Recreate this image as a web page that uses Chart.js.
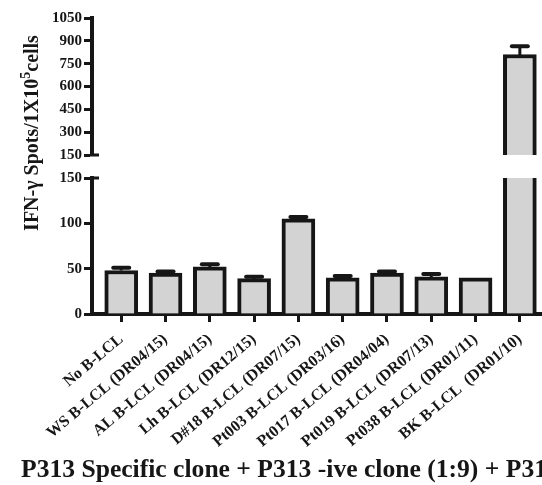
<!DOCTYPE html>
<html>
<head>
<meta charset="utf-8">
<script src="https://cdn.jsdelivr.net/npm/chart.js@4.4.0/dist/chart.umd.min.js"></script>
<style>
  html, body { margin: 0; padding: 0; background: #fff; }
  #wrap { position: relative; width: 542px; height: 485px; }
</style>
</head>
<body>
<div id="wrap"><canvas id="spotChart"></canvas></div>
<script>
// data
var categories = ['No B-LCL', 'WS B-LCL (DR04/15)', 'AL B-LCL (DR04/15)', 'Lh B-LCL (DR12/15)',
    'D#18 B-LCL (DR07/15)', 'Pt003 B-LCL (DR03/16)', 'Pt017 B-LCL (DR04/04)',
    'Pt019 B-LCL (DR07/13)', 'Pt038 B-LCL (DR01/11)', 'BK B-LCL  (DR01/10)'];
var spots = [48, 45, 52, 39, 105, 40, 45, 41, 40, 810];
var spotErrors = [3, 2, 3, 2, 2, 2, 2, 3, 0, 55];
var highTicks = [150, 300, 450, 600, 750, 900, 1050];
var lowTicks = [0, 50, 100, 150];
var breakValue = 150;
var yTitleParts = ['IFN-\u03b3 Spots/1X10', '5', 'cells'];
var xTitle = 'P313 Specific clone + P313 -ive clone (1:9) + P313';

var INK = '#161616';
var SERIF = '"Liberation Serif", "Times New Roman", serif';

document.addEventListener("DOMContentLoaded", function () {
    var canvas = document.getElementById('spotChart');
    var ctx = canvas.getContext('2d');

    function setTicks(list) {
        return function (scale) {
            scale.ticks = list.map(function (v) { return { value: v }; });
        };
    }

    function fixWidth(scale) { scale.width = 92; }

    var yTickStyle = {
        autoSkip: false,
        padding: 2,
        color: INK,
        font: { family: SERIF, size: 15, weight: 'bold' },
        callback: function (value) { return String(value); }
    };

    var errorBars = {
        id: 'errorBars',
        afterDatasetsDraw: function (chart) {
            var c = chart.ctx;
            var xs = chart.scales.x;
            c.save();
            c.strokeStyle = INK;
            spots.forEach(function (v, i) {
                var e = spotErrors[i];
                if (!e) return;
                var s = v > breakValue ? chart.scales.yHigh : chart.scales.yLow;
                var px = xs.getPixelForValue(i);
                var y0 = s.getPixelForValue(v);
                var y1 = s.getPixelForValue(v + e);
                c.lineWidth = 3;
                c.beginPath();
                c.moveTo(px, y0);
                c.lineTo(px, y1);
                c.stroke();
                c.lineWidth = 4;
                c.lineCap = 'round';
                c.beginPath();
                c.moveTo(px - 8, y1);
                c.lineTo(px + 8, y1);
                c.stroke();
            });
            c.restore();
        }
    };

    // short caps on the right of the axis at the break
    var axisBreak = {
        id: 'axisBreak',
        afterDraw: function (chart) {
            var c = chart.ctx;
            var x0 = chart.chartArea.left;
            c.save();
            c.strokeStyle = INK;
            c.lineWidth = 3;
            [chart.scales.yHigh, chart.scales.yLow].forEach(function (s) {
                var y = s.getPixelForValue(breakValue);
                c.beginPath();
                c.moveTo(x0 - 2, y);
                c.lineTo(x0 + 7, y);
                c.stroke();
            });
            c.restore();
        }
    };

    var titles = {
        id: 'titles',
        afterDraw: function (chart) {
            var c = chart.ctx;
            c.save();
            c.fillStyle = INK;
            // y title, rotated, with superscript
            c.translate(33, 133);
            c.rotate(-Math.PI / 2);
            var big = 'bold 20px ' + SERIF, small = 'bold 14px ' + SERIF;
            c.font = big;
            var w1 = c.measureText(yTitleParts[0]).width;
            var w3 = c.measureText(yTitleParts[2]).width;
            c.font = small;
            var w2 = c.measureText(yTitleParts[1]).width;
            var x0 = -(w1 + w2 + w3) / 2;
            c.textBaseline = 'middle';
            c.textAlign = 'left';
            c.font = big;
            c.fillText(yTitleParts[0], x0, 0);
            c.font = small;
            c.fillText(yTitleParts[1], x0 + w1, -7);
            c.font = big;
            c.fillText(yTitleParts[2], x0 + w1 + w2, 0);
            c.restore();

            c.save();
            c.fillStyle = INK;
            c.font = 'bold 25.6px ' + SERIF;
            c.textAlign = 'left';
            c.textBaseline = 'alphabetic';
            c.fillText(xTitle, 21, 477);
            c.restore();
        }
    };

    var barStyle = {
        backgroundColor: '#d3d3d3',
        borderColor: INK,
        barThickness: 33,
        grouped: false,
        borderSkipped: 'start'
    };

    new Chart(ctx, {
        type: 'bar',
        data: {
            datasets: [
                Object.assign({
                    label: 'lower',
                    yAxisID: 'yLow',
                    data: spots.map(function (v, i) { return { x: i, y: Math.min(v, breakValue) }; }),
                    borderWidth: function (c) {
                        return spots[c.dataIndex] > breakValue ? { top: 0, bottom: 0, left: 4, right: 4 } : 4;
                    }
                }, barStyle),
                Object.assign({
                    label: 'upper',
                    yAxisID: 'yHigh',
                    data: spots.map(function (v, i) { return { x: i, y: v > breakValue ? v : null }; }),
                    borderWidth: 4
                }, barStyle)
            ]
        },
        options: {
            responsive: true,
            maintainAspectRatio: false,
            animation: false,
            layout: { padding: { top: 18, right: 0, left: 0, bottom: 0 } },
            plugins: {
                legend: { display: false },
                tooltip: { enabled: false }
            },
            scales: {
                x: {
                    type: 'linear',
                    min: -0.66,
                    max: 9.5,
                    offset: false,
                    afterFit: function (s) { s.height = 171; },
                    border: { width: 4, color: INK },
                    grid: { offset: false, drawOnChartArea: false, tickLength: 8, tickWidth: 3, tickColor: INK },
                    ticks: {
                        stepSize: 1,
                        includeBounds: false,
                        autoSkip: false,
                        minRotation: 40,
                        maxRotation: 40,
                        padding: 8,
                        color: INK,
                        font: { family: SERIF, size: 16, weight: 'bold' },
                        callback: function (value) {
                            return categories[value] !== undefined ? categories[value] : '';
                        }
                    }
                },
                yLow: {
                    type: 'linear',
                    position: 'left',
                    stack: 'split',
                    stackWeight: 136,
                    min: lowTicks[0],
                    max: lowTicks[lowTicks.length - 1],
                    afterBuildTicks: setTicks(lowTicks),
                    afterFit: fixWidth,
                    border: { width: 4, color: INK },
                    grid: { drawOnChartArea: false, tickLength: 8, tickWidth: 3, tickColor: INK },
                    ticks: yTickStyle
                },
                yGap: {
                    type: 'linear',
                    position: 'left',
                    stack: 'split',
                    stackWeight: 23,
                    min: 0,
                    max: 1,
                    afterFit: fixWidth,
                    border: { display: false },
                    grid: { display: false },
                    ticks: { display: false }
                },
                yHigh: {
                    type: 'linear',
                    position: 'left',
                    stack: 'split',
                    stackWeight: 137,
                    min: highTicks[0],
                    max: highTicks[highTicks.length - 1],
                    afterBuildTicks: setTicks(highTicks),
                    afterFit: fixWidth,
                    border: { width: 4, color: INK },
                    grid: { drawOnChartArea: false, tickLength: 8, tickWidth: 3, tickColor: INK },
                    ticks: yTickStyle
                }
            }
        },
        plugins: [errorBars, axisBreak, titles]
    });
});
</script>
</body>
</html>
